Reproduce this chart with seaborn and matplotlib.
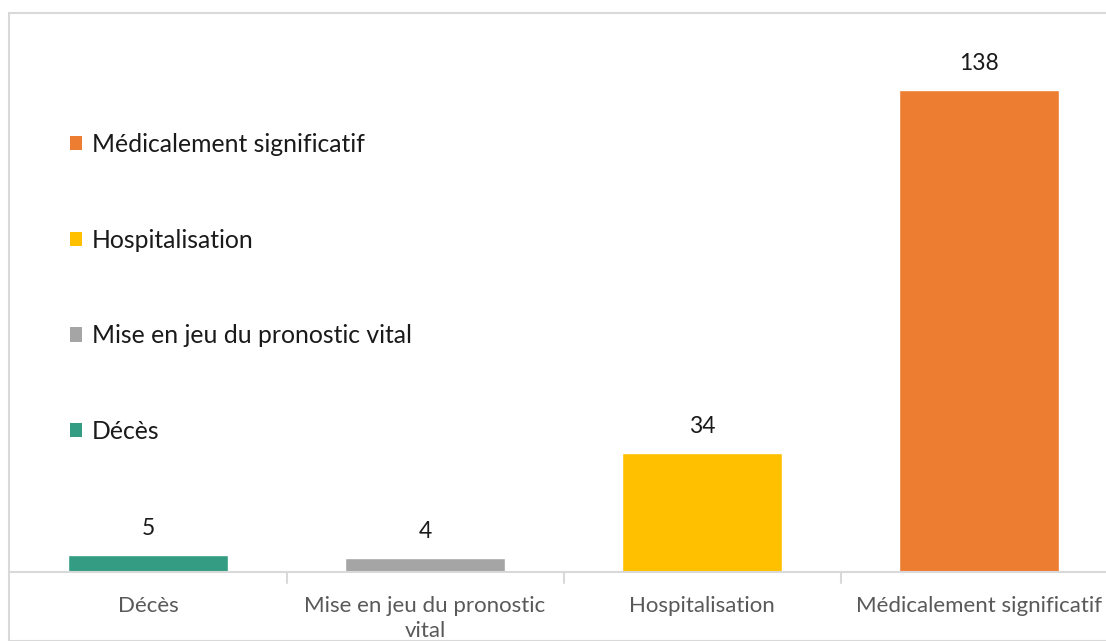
import matplotlib
matplotlib.use("Agg")
import matplotlib.pyplot as plt
from matplotlib.patches import Patch, Rectangle
import seaborn as sns
import pandas as pd

categories = ["Décès", "Mise en jeu du pronostic vital", "Hospitalisation", "Médicalement significatif"]
tick_labels = ["Décès", "Mise en jeu du pronostic\nvital", "Hospitalisation", "Médicalement significatif"]
values = [5, 4, 34, 138]
colors = ["#339C82", "#A5A5A5", "#FFC000", "#ED7D31"]

sns.set_theme(style="white")
plt.rcParams["font.family"] = ["Lato", "DejaVu Sans"]

W, H = 1106, 641
fig = plt.figure(figsize=(W / 100, H / 100), dpi=100)

# outer chart frame
fig.patches.append(Rectangle((8.5 / W, 0), 1.2, (H - 12.5) / H, transform=fig.transFigure,
                             fill=False, edgecolor="#D9D9D9", linewidth=1.5))

left_px, base_px, top_px = 9.5, 572, 13
ax = fig.add_axes([left_px / W, (H - base_px) / H, 1108 / W, (base_px - top_px) / H])

df = pd.DataFrame({"cat": categories, "val": values})
sns.barplot(data=df, x="cat", y="val", hue="cat", palette=colors, order=categories,
            hue_order=categories, width=0.578, saturation=1, legend=False, ax=ax)

ax.set_xlim(-0.5, 3.5)
ax.set_ylim(0, 160)
ax.set_xlabel("")
ax.set_ylabel("")
ax.set_yticks([])
for s in ["top", "right", "left"]:
    ax.spines[s].set_visible(False)
ax.spines["bottom"].set_color("#D9D9D9")
ax.spines["bottom"].set_linewidth(1.5)

ax.set_xticks(range(len(categories)))
ax.set_xticklabels(tick_labels, fontsize=16, color="#595959", linespacing=1.35)
ax.tick_params(axis="x", length=0, pad=17)
# separators between categories
for xb in [0.5, 1.5, 2.5]:
    ax.plot([xb, xb], [0, -0.02], transform=ax.get_xaxis_transform(), color="#D9D9D9",
            linewidth=1.5, clip_on=False)

for i, v in enumerate(values):
    ax.annotate(str(v), (i, v), xytext=(0, 19), textcoords="offset points",
                ha="center", va="center", fontsize=16.5, color="#1a1a1a")

handles = [Patch(facecolor=colors[i], edgecolor="none") for i in range(len(categories))][::-1]
labels = categories[::-1]
fig.legend(handles, labels, loc="upper left", bbox_to_anchor=(60 / W, 1 - 123 / H),
           frameon=False, fontsize=17.8, handlelength=0.5, handleheight=0.5,
           handletextpad=0.4, labelspacing=2.94, borderaxespad=0, labelcolor="#1a1a1a")

fig.savefig("out.png", dpi=100)
